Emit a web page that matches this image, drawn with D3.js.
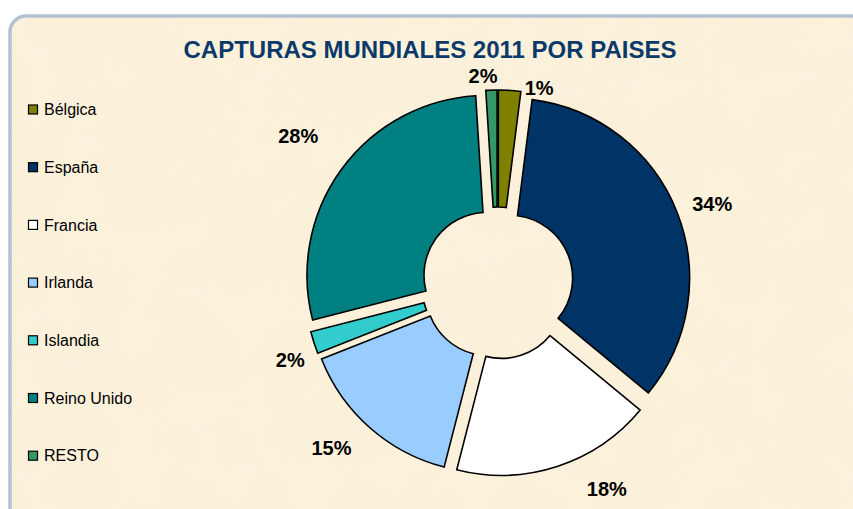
<!DOCTYPE html>
<html>
<head>
<meta charset="utf-8">
<script src="https://cdn.jsdelivr.net/npm/d3@7"></script>
<style>
  body { margin: 0; background: #fff; }
  svg { display: block; }
</style>
</head>
<body>
<script>
// data (percent of world catch, 2011)
const paises = ["Bélgica", "España", "Francia", "Irlanda", "Islandia", "Reino Unido", "RESTO"]
const capturas = [2, 34, 18, 15, 2, 28, 1]
const colores = ["#808000", "#003366", "#ffffff", "#99ccff", "#33cccc", "#008080", "#339966"]

// where the percent labels sit (angle in degrees clockwise from 12 o'clock, distance from centre)
const labelAngle = [356, 69.7, 152, 225.2, 249.7, 306.5, 12]
const labelRadius = [208, 229, 233, 234, 221, 248, 200]

const w = 853
const h = 509
const cx = 497.5
const cy = 283
const rOut = 180
const rIn = 63
const explode = 13

let svg = d3.select("body")
            .append("svg")
            .attr("width", w)
            .attr("height", h)
            .style("font-family", "'Liberation Sans', Arial, sans-serif")

let defs = svg.append("defs")

// parchment look
let paper = defs.append("filter")
    .attr("id", "paper")
    .attr("x", 0).attr("y", 0).attr("width", 1).attr("height", 1)
paper.append("feTurbulence")
    .attr("type", "fractalNoise")
    .attr("baseFrequency", 0.018)
    .attr("numOctaves", 3)
    .attr("seed", 7)
    .attr("result", "noise")
paper.append("feColorMatrix")
    .attr("in", "noise")
    .attr("type", "matrix")
    .attr("values", "0 0 0 0 0.93  0 0 0 0 0.85  0 0 0 0 0.68  0 0 0 0.55 -0.2")
    .attr("result", "spots")
paper.append("feComposite")
    .attr("in", "spots")
    .attr("in2", "SourceGraphic")
    .attr("operator", "in")
    .attr("result", "spotsIn")
paper.append("feMerge").selectAll("feMergeNode")
    .data(["SourceGraphic", "spotsIn"])
    .enter()
    .append("feMergeNode")
    .attr("in", d => d)

// frame
svg.append("rect")
    .attr("x", 10)
    .attr("y", 16)
    .attr("width", w + 40)
    .attr("height", h + 40)
    .attr("rx", 16)
    .attr("fill", "#fcf2dc")
    .attr("filter", "url(#paper)")
svg.append("rect")
    .attr("x", 10)
    .attr("y", 16)
    .attr("width", w + 40)
    .attr("height", h + 40)
    .attr("rx", 16)
    .attr("fill", "none")
    .attr("stroke", "#b3c2d2")
    .attr("stroke-width", 3.5)

// title
svg.append("text")
    .attr("x", 430)
    .attr("y", 58)
    .attr("text-anchor", "middle")
    .attr("font-size", "24px")
    .attr("font-weight", "bold")
    .attr("fill", "#0b3a6a")
    .text("CAPTURAS MUNDIALES 2011 POR PAISES")

// doughnut
const color = d3.scaleOrdinal().domain(paises).range(colores)
const pie = d3.pie().sort(null).value(d => d.v)
const arc = d3.arc().innerRadius(rIn).outerRadius(rOut)

const rows = paises.map((p, i) => ({pais: p, v: capturas[i], i: i}))
const arcs = pie(rows)

let g = svg.append("g").attr("transform", "translate(" + cx + "," + cy + ")")

g.selectAll("path")
    .data(arcs)
    .enter()
    .append("path")
    .attr("d", arc)
    .attr("transform", function(d) {
        let m = (d.startAngle + d.endAngle) / 2
        return "translate(" + (explode * Math.sin(m)) + "," + (-explode * Math.cos(m)) + ")"
    })
    .attr("fill", d => color(d.data.pais))
    .attr("stroke", "#000")
    .attr("stroke-width", 1.6)
    .attr("stroke-linejoin", "miter")

// percent labels
g.selectAll("text.pct")
    .data(arcs)
    .enter()
    .append("text")
    .attr("class", "pct")
    .attr("x", d => labelRadius[d.data.i] * Math.sin(labelAngle[d.data.i] * Math.PI / 180))
    .attr("y", d => -labelRadius[d.data.i] * Math.cos(labelAngle[d.data.i] * Math.PI / 180))
    .attr("text-anchor", "middle")
    .attr("dy", "0.36em")
    .attr("font-size", "20px")
    .attr("font-weight", "bold")
    .attr("fill", "#000")
    .text(d => d3.format(".0f")(d.data.v) + "%")

// legend
const ly = d3.scalePoint().domain(paises).range([109.5, 455.7])

let legend = svg.selectAll("g.leg")
    .data(paises)
    .enter()
    .append("g")
    .attr("class", "leg")
    .attr("transform", d => "translate(28," + ly(d) + ")")

legend.append("rect")
    .attr("x", 0.5)
    .attr("y", -4.5)
    .attr("width", 9)
    .attr("height", 9)
    .attr("fill", d => color(d))
    .attr("stroke", "#000")
    .attr("stroke-width", 1.2)

legend.append("text")
    .attr("x", 16)
    .attr("dy", "0.36em")
    .attr("font-size", "16px")
    .attr("fill", "#000")
    .text(d => d)
</script>
</body>
</html>
